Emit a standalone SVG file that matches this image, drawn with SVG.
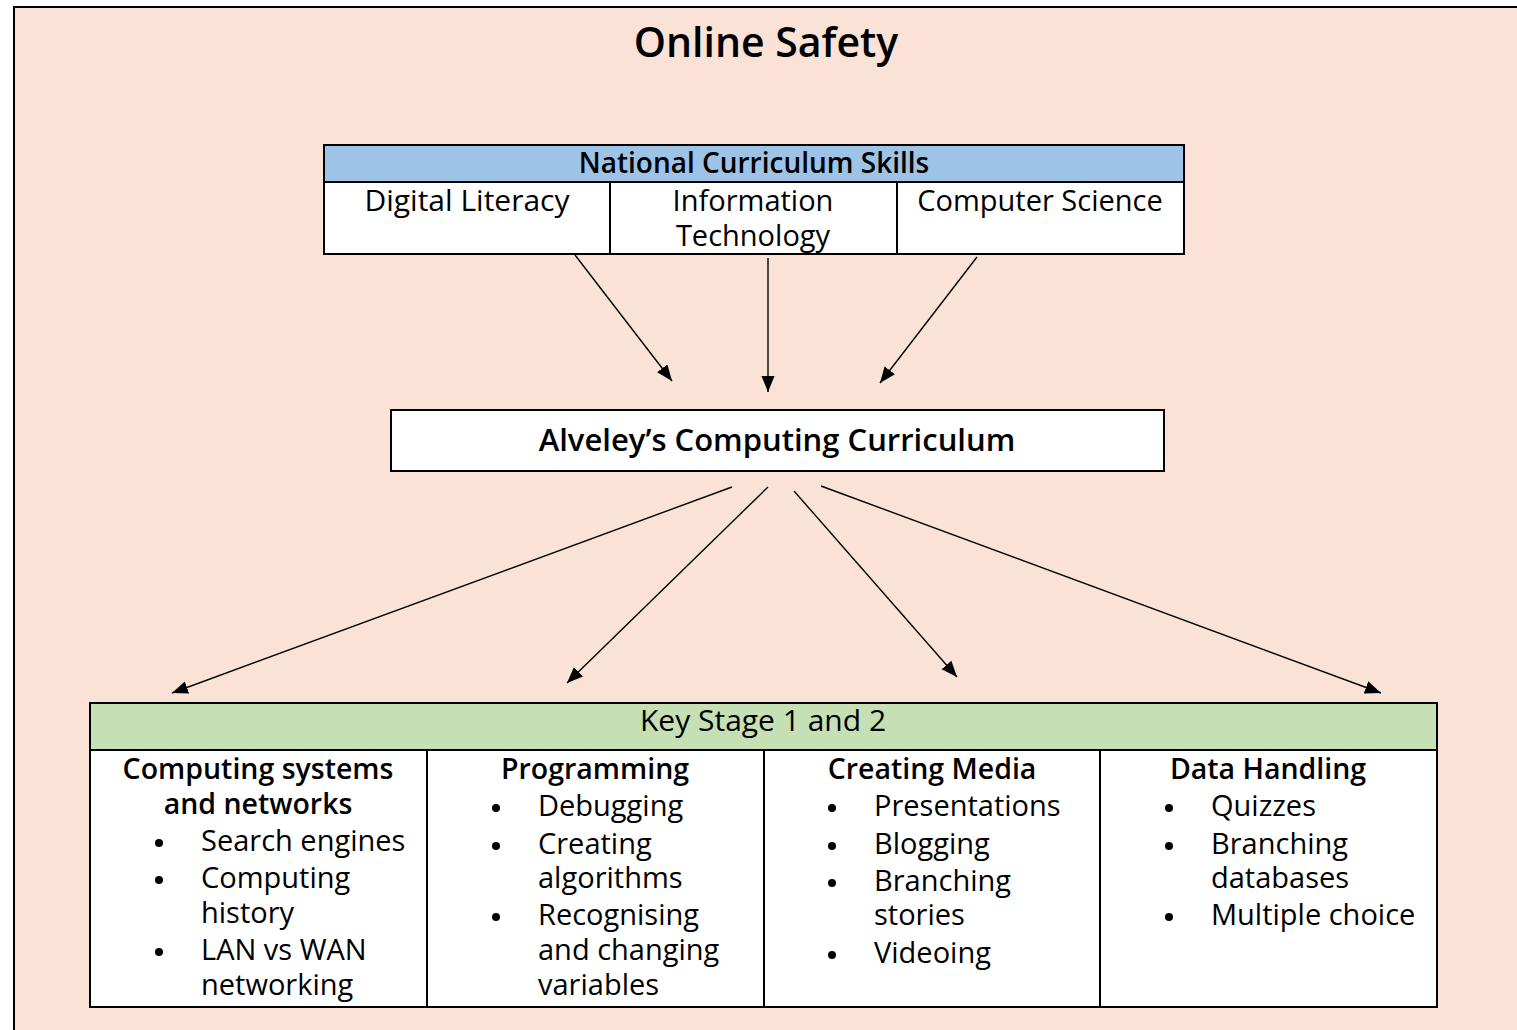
<svg xmlns="http://www.w3.org/2000/svg" width="1517" height="1030" viewBox="0 0 1517 1030">
<defs>
<style>
text{font-family:"Open Sans","Liberation Sans",sans-serif;fill:#000}
.t{font-size:29px}
.b{font-size:28.5px;font-weight:600}
.c{text-anchor:middle}
.cell{fill:#fff;stroke:#000;stroke-width:2}
.conn{stroke:#000;stroke-width:1.4;fill:none;marker-end:url(#ah)}
.dot{fill:#000}
</style>
<marker id="ah" markerUnits="userSpaceOnUse" markerWidth="18" markerHeight="14" refX="16" refY="6.5" orient="auto">
<path d="M0,0 L16,6.5 L0,13 z" fill="#000"/>
</marker>
</defs>
<rect x="0" y="0" width="1517" height="1030" fill="#fff"/>
<rect x="14" y="7" width="1600" height="1100" fill="#FAE3D6" stroke="#000" stroke-width="2"/>
<g id="title"><text x="766" y="57" class="c" style="font-size:41px;font-weight:600">Online Safety</text></g>

<g id="national-curriculum">
<rect x="324" y="145" width="860" height="37" fill="#9DC3E6" stroke="#000" stroke-width="2"/>
<rect x="324" y="182" width="286" height="72" class="cell"/>
<rect x="610" y="182" width="287" height="72" class="cell"/>
<rect x="897" y="182" width="287" height="72" class="cell"/>
<text x="754" y="173" class="c" style="font-size:28px;font-weight:600">National Curriculum Skills</text>
<text x="467" y="211" class="c" style="font-size:30px">Digital Literacy</text>
<text x="753" y="211" class="t c">Information</text>
<text x="753" y="246" class="t c">Technology</text>
<text x="1040" y="211" class="t c">Computer Science</text>
</g>

<g id="alveley">
<rect x="391" y="410" width="773" height="61" class="cell"/>
<text x="777" y="451" class="c" style="font-size:31px;font-weight:600">Alveley’s Computing Curriculum</text>
</g>

<g id="key-stage">
<rect x="90" y="703" width="1347" height="47" fill="#C5E0B4" stroke="#000" stroke-width="2"/>
<text x="763" y="731" class="c" style="font-size:30px">Key Stage 1 and 2</text>
</g>

<g id="computing-systems">
<rect x="90" y="750" width="337" height="257" class="cell"/>
<text x="258" y="779" class="b c">Computing systems</text>
<text x="258" y="814" class="b c">and networks</text>
<circle cx="159" cy="843" r="4" class="dot"/>
<text x="201" y="851" class="t">Search engines</text>
<circle cx="159" cy="880" r="4" class="dot"/>
<text x="201" y="888" class="t">Computing</text>
<text x="201" y="923" class="t">history</text>
<circle cx="159" cy="952" r="4" class="dot"/>
<text x="201" y="960" class="t">LAN vs WAN</text>
<text x="201" y="995" class="t">networking</text>
</g>

<g id="programming">
<rect x="427" y="750" width="337" height="257" class="cell"/>
<text x="595" y="779" class="b c">Programming</text>
<circle cx="496" cy="808" r="4" class="dot"/>
<text x="538" y="816" class="t">Debugging</text>
<circle cx="496" cy="846" r="4" class="dot"/>
<text x="538" y="854" class="t">Creating</text>
<text x="538" y="888" class="t">algorithms</text>
<circle cx="496" cy="917" r="4" class="dot"/>
<text x="538" y="925" class="t">Recognising</text>
<text x="538" y="960" class="t">and changing</text>
<text x="538" y="995" class="t">variables</text>
</g>

<g id="creating-media">
<rect x="764" y="750" width="336" height="257" class="cell"/>
<text x="932" y="779" class="b c">Creating Media</text>
<circle cx="832" cy="808" r="4" class="dot"/>
<text x="874" y="816" class="t">Presentations</text>
<circle cx="832" cy="846" r="4" class="dot"/>
<text x="874" y="854" class="t">Blogging</text>
<circle cx="832" cy="883" r="4" class="dot"/>
<text x="874" y="891" class="t">Branching</text>
<text x="874" y="925" class="t">stories</text>
<circle cx="832" cy="955" r="4" class="dot"/>
<text x="874" y="963" class="t">Videoing</text>
</g>

<g id="data-handling">
<rect x="1100" y="750" width="337" height="257" class="cell"/>
<text x="1268" y="779" class="b c">Data Handling</text>
<circle cx="1169" cy="808" r="4" class="dot"/>
<text x="1211" y="816" class="t">Quizzes</text>
<circle cx="1169" cy="846" r="4" class="dot"/>
<text x="1211" y="854" class="t">Branching</text>
<text x="1211" y="888" class="t">databases</text>
<circle cx="1169" cy="917" r="4" class="dot"/>
<text x="1211" y="925" class="t">Multiple choice</text>
</g>

<g id="connectors">
<path class="conn" d="M575,255 L672,381"/>
<path class="conn" d="M768,258 L768,392"/>
<path class="conn" d="M977,257 L880,383"/>
<path class="conn" d="M732,487 L172,693"/>
<path class="conn" d="M768,487 L567,683"/>
<path class="conn" d="M794,491 L957,677"/>
<path class="conn" d="M821,486 L1381,693"/>
</g>
</svg>
